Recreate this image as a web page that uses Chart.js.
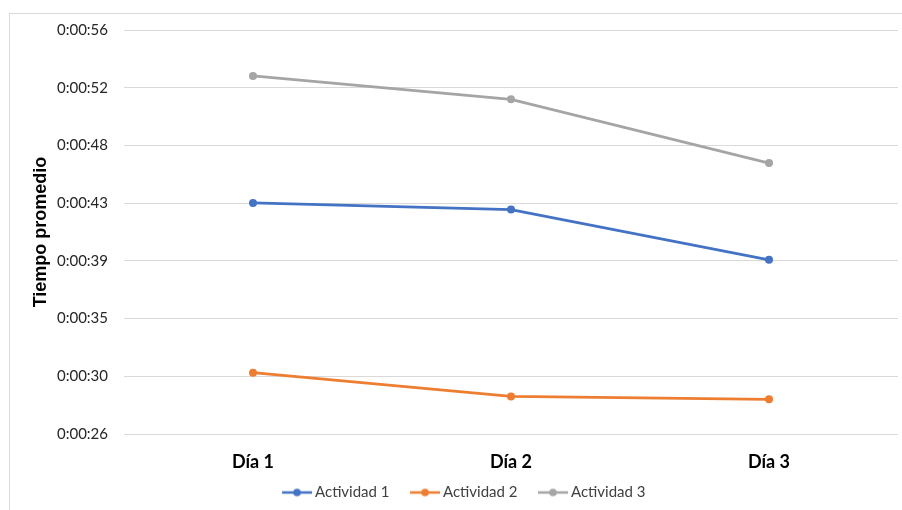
<!DOCTYPE html>
<html><head><meta charset="utf-8">
<script src="https://cdn.jsdelivr.net/npm/chart.js@4.4.0/dist/chart.umd.min.js"></script>
<style>
html,body{margin:0;padding:0;background:#fff;}
#wrap{position:relative;width:902px;height:510px;overflow:hidden;}
#frame{position:absolute;left:9px;top:13px;width:1000px;height:1000px;border:1px solid #d9d9d9;box-sizing:border-box;}
canvas{position:absolute;left:0;top:0;}
</style></head><body>
<div id="wrap"><div id="frame"></div><canvas id="c" width="902" height="510"></canvas></div>
<script>
const categories = ['Día 1', 'Día 2', 'Día 3'];
const seriesNames = ['Actividad 1', 'Actividad 2', 'Actividad 3'];
// values in seconds
const actividad1 = [43.22, 42.72, 38.96];
const actividad2 = [30.51, 28.73, 28.52];
const actividad3 = [52.72, 50.97, 46.20];
const yTickValues = [25.92, 30.24, 34.56, 38.88, 43.20, 47.52, 51.84, 56.16];
const yTickLabels = ['0:00:26', '0:00:30', '0:00:35', '0:00:39', '0:00:43', '0:00:48', '0:00:52', '0:00:56'];
const colors = ['#4472C4', '#ED7D31', '#A5A5A5'];

function legendMarker(color) {
  const c = document.createElement('canvas');
  c.width = 60; c.height = 10;
  const g = c.getContext('2d');
  g.strokeStyle = color; g.lineWidth = 2.5;
  g.beginPath(); g.moveTo(23, 5); g.lineTo(53, 5); g.stroke();
  g.fillStyle = color;
  g.beginPath(); g.arc(38, 5, 3.8, 0, Math.PI * 2); g.fill();
  return c;
}
const markers = colors.map(legendMarker);

const seriesData = [actividad1, actividad2, actividad3];
const datasets = seriesNames.map((name, i) => ({
  label: name,
  data: seriesData[i],
  borderColor: colors[i],
  backgroundColor: colors[i],
  pointBackgroundColor: colors[i],
  pointBorderColor: colors[i],
  pointBorderWidth: 0,
  pointRadius: 4,
  borderWidth: 2.75,
  tension: 0,
  fill: false
}));

new Chart(document.getElementById('c'), {
  type: 'line',
  data: { labels: categories, datasets: datasets },
  options: {
    responsive: false,
    animation: false,
    layout: { padding: { left: 17, right: 3, top: 30, bottom: 0 } },
    plugins: {
      tooltip: { enabled: false },
      legend: {
        position: 'bottom',
        labels: {
          usePointStyle: true,
          pointStyleWidth: 37,
          boxHeight: 10,
          padding: 9,
          color: '#404040',
          font: { family: 'Lato', size: 15 },
          generateLabels: (chart) => {
            const items = Chart.defaults.plugins.legend.labels.generateLabels(chart);
            items.forEach((it, i) => { it.pointStyle = markers[i]; });
            return items;
          }
        }
      }
    },
    scales: {
      x: {
        type: 'category',
        offset: true,
        grid: { display: false, drawTicks: false },
        border: { display: false },
        ticks: { color: '#000', padding: 17, font: { family: 'Lato', size: 18, weight: 'bold' } },
        afterFit: (s) => { s.height = 42; }
      },
      y: {
        type: 'linear',
        min: yTickValues[0],
        max: yTickValues[yTickValues.length - 1],
        afterBuildTicks: (s) => { s.ticks = yTickValues.map(v => ({ value: v })); },
        grid: { color: '#D9D9D9', lineWidth: 1, drawTicks: false },
        border: { display: false },
        ticks: {
          color: '#262626',
          padding: 16,
          font: { family: 'Lato', size: 15 },
          callback: (v, i) => yTickLabels[i]
        },
        title: {
          display: true,
          text: 'Tiempo promedio',
          color: '#000',
          padding: { top: 13, bottom: 0 },
          font: { family: 'Liberation Sans', size: 18, weight: 'bold' }
        },
        afterFit: (s) => { s.width = 107; }
      }
    }
  }
});
</script>
</body></html>
